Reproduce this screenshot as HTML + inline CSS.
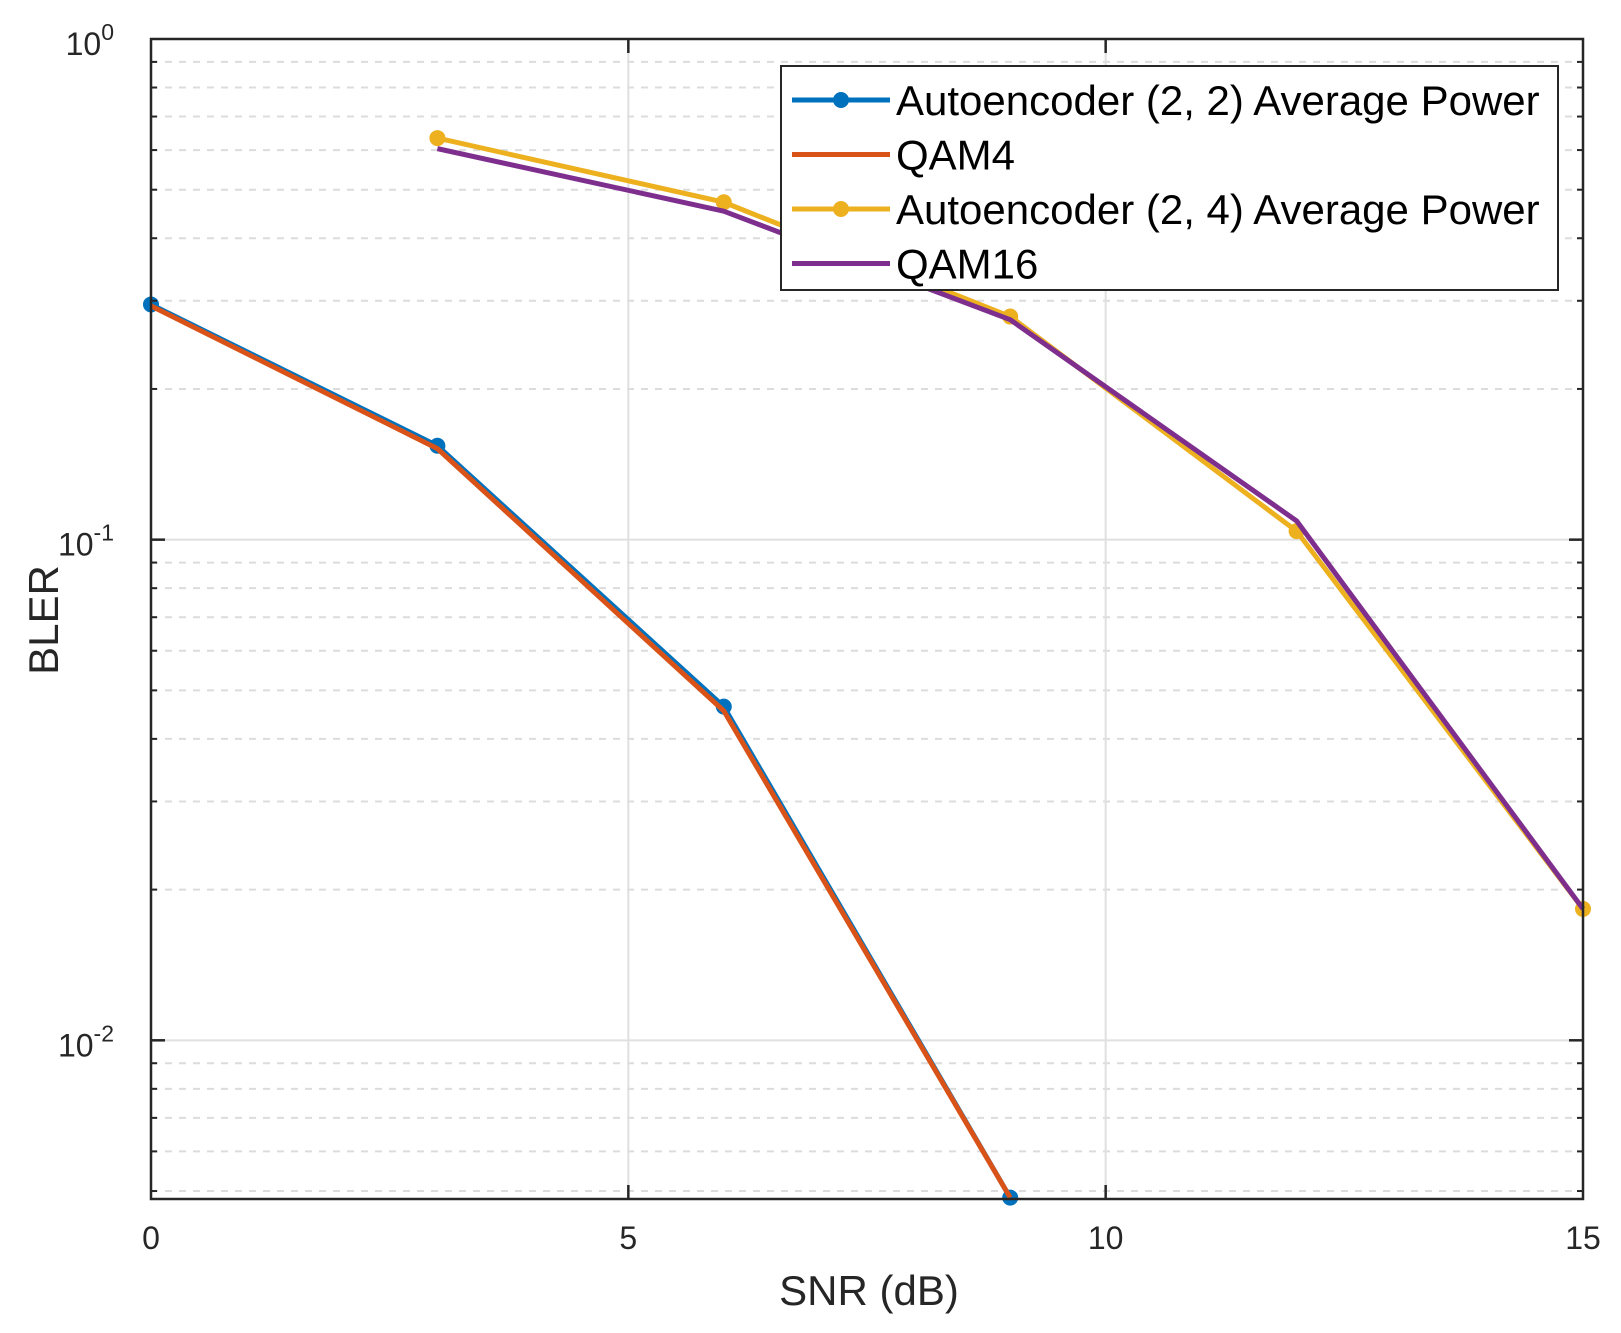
<!DOCTYPE html>
<html><head><meta charset="utf-8"><style>
html,body{margin:0;padding:0;background:#fff;}
svg{display:block;font-family:"Liberation Sans",Arial,sans-serif;}
</style></head><body>
<svg id="chart" width="1621" height="1333" viewBox="0 0 1621 1333">
<g id="grid"></g>
<g id="series"></g>
<rect x="151" y="39" width="1432" height="1160" fill="none" stroke="#262626" stroke-width="2.5"/>
<g id="ticks"></g>
<text x="869" y="1305" font-size="42" text-anchor="middle" fill="#262626">SNR (dB)</text>
<text transform="translate(58,620) rotate(-90)" font-size="42" text-anchor="middle" fill="#262626">BLER</text>
<g id="legend"></g>
</svg>
<script>
const xTicks=[0,5,10,15];
const yDecades=[0,-1,-2];
const snr22=[0,3,6,9];
const ae22=[0.295,0.154,0.0464,0.00485];
const qam4=[0.293,0.152,0.0455,0.00485];
const snr24=[3,6,9,12,15];
const ae24=[0.634,0.472,0.279,0.104,0.0183];
const qam16=[0.604,0.453,0.275,0.109,0.0183];
const legendLabels=["Autoencoder (2, 2) Average Power","QAM4","Autoencoder (2, 4) Average Power","QAM16"];

const L=151,R=1583,T=39,B=1199;
const yMinLog=Math.log10(0.00482);
const xs=v=>L+(v-0)/(15-0)*(R-L);
const ys=v=>T+(0-Math.log10(v))/(0-yMinLog)*(B-T);
const NS="http://www.w3.org/2000/svg";
function mk(tag,attrs,parent){const e=document.createElementNS(NS,tag);for(const k in attrs)e.setAttribute(k,attrs[k]);parent.appendChild(e);return e;}
const grid=document.getElementById('grid'),ticks=document.getElementById('ticks'),ser=document.getElementById('series'),leg=document.getElementById('legend');

for(let d=-3;d<0;d++){for(let m=2;m<=9;m++){const v=m*Math.pow(10,d);if(v<0.00482)continue;const y=ys(v);
const g=mk('line',{x1:L,x2:R,y1:y,y2:y,stroke:'#dcdcdc','stroke-width':2,'stroke-dasharray':'7,7'},grid);


const t1=mk('line',{x1:L,x2:L+6,y1:y,y2:y,stroke:'#262626','stroke-width':2},ticks);


const t2=mk('line',{x1:R-6,x2:R,y1:y,y2:y,stroke:'#262626','stroke-width':2},ticks);


}}
yDecades.forEach(d=>{const y=ys(Math.pow(10,d));
if(d<0){const g=mk('line',{x1:L,x2:R,y1:y,y2:y,stroke:'#e0e0e0','stroke-width':2},grid);


const t1=mk('line',{x1:L,x2:L+14,y1:y,y2:y,stroke:'#262626','stroke-width':2.5},ticks);


const t2=mk('line',{x1:R-14,x2:R,y1:y,y2:y,stroke:'#262626','stroke-width':2.5},ticks);

}
const tx=mk('text',{x:114,y:y+16,'font-size':32,fill:'#262626','text-anchor':'end'},ticks);
tx.textContent='10';
const sp=mk('tspan',{dy:-15,'font-size':23},tx);sp.textContent=String(d);


});
xTicks.forEach(v=>{const x=xs(v);
if(v>0&&v<15){const g=mk('line',{x1:x,x2:x,y1:T,y2:B,stroke:'#e0e0e0','stroke-width':2},grid);


const t1=mk('line',{x1:x,x2:x,y1:B-14,y2:B,stroke:'#262626','stroke-width':2.5},ticks);


const t2=mk('line',{x1:x,x2:x,y1:T,y2:T+14,stroke:'#262626','stroke-width':2.5},ticks);

}
const tx=mk('text',{x:x,y:1249,'font-size':32,fill:'#262626','text-anchor':'middle'},ticks);
tx.textContent=String(v);


});

const series=[
 {x:snr22,y:ae22,c:'#0072bd',m:true,n:'series-ae22'},
 {x:snr22,y:qam4,c:'#d95319',m:false,n:'series-qam4'},
 {x:snr24,y:ae24,c:'#edb120',m:true,n:'series-ae24'},
 {x:snr24,y:qam16,c:'#7e2f8e',m:false,n:'series-qam16'}];
const cp=mk('clipPath',{id:'clip'},document.getElementById('chart'));
mk('rect',{x:L-12,y:T,width:R-L+24,height:B-T+10},cp);
series.forEach(s=>{
 const g=mk('g',{'clip-path':'url(#clip)'},ser);
 
 
 const pts=s.x.map((v,i)=>xs(v)+','+ys(s.y[i])).join(' ');
 const pl=mk('polyline',{points:pts,fill:'none',stroke:s.c,'stroke-width':5,'stroke-linejoin':'round'},g);
 
 
 if(s.m)s.x.forEach((v,i)=>{const c=mk('circle',{cx:xs(v),cy:ys(s.y[i]),r:8,fill:s.c},g);
 
 });
});
const box=mk('rect',{x:781,y:66,width:777,height:224,fill:'#fff',stroke:'#262626','stroke-width':2},leg);


series.forEach((s,i)=>{const y=100+i*54.5;
 const g=mk('g',{},leg);
 
 
 mk('line',{x1:792,x2:890,y1:y,y2:y,stroke:s.c,'stroke-width':5},g);
 if(s.m)mk('circle',{cx:841,cy:y,r:8,fill:s.c},g);
 const t=mk('text',{x:896,y:y+15,'font-size':42,fill:'#000'},g);
 t.textContent=legendLabels[i];
});
</script>
</body></html>
